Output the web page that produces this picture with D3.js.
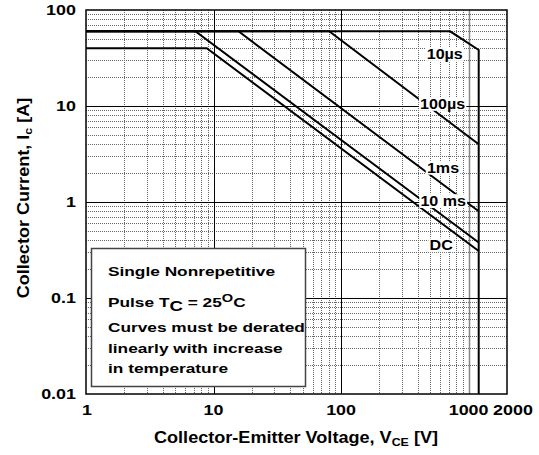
<!DOCTYPE html>
<html>
<head>
<meta charset="utf-8">
<script src="https://cdn.jsdelivr.net/npm/d3@7"></script>
<style>
  body { margin: 0; background: #fff; }
  text { font-family: "Liberation Sans", Arial, sans-serif; font-weight: bold; fill: #000; }
</style>
</head>
<body>
<svg id="chart"></svg>
<script>
const xTicks = [1, 10, 100, 1000, 2000];
const yTicks = [0.01, 0.1, 1, 10, 100];
const yTickLabels = ["0.01", "0.1", "1", "10", "100"];

// SOA boundaries [V, A]
const curve10us = [[1, 60], [716, 60], [1200, 38.3], [1200, 0.01]];
const curve100us = [[1, 60], [80.7, 60], [1200, 4.0]];
const curve1ms = [[1, 60], [15.7, 60], [1200, 0.8]];
const curve10ms = [[1, 60], [7.2, 60], [1200, 0.378]];
const curveDC = [[1, 40], [8.85, 40], [1200, 0.309]];

const curveLabels = ["10µs", "100µs", "1ms", "10 ms", "DC"];
const labelPos = [[650, 34.8], [625, 10.5], [630, 2.27], [632, 1.02], [609, 0.354]];

const noteLines = ["Single Nonrepetitive", "Pulse T_C = 25^OC", "Curves must be derated",
  "linearly with increase", "in temperature"];

const width = 539;
const height = 455;

const x = d3.scaleLog().domain([1, 2000]).range([86, 507]);
const y = d3.scaleLog().domain([0.01, 100]).range([394, 10]);

const svg = d3.select("#chart")
  .attr("width", width)
  .attr("height", height);

// grid
const decadesX = [1, 10, 100, 1000];
const minorX = decadesX.flatMap(d => d3.range(2, 10).map(k => d * k)).filter(v => v < 2000);
const decadesY = [0.01, 0.1, 1, 10];
const minorY = decadesY.flatMap(d => d3.range(2, 10).map(k => d * k));

const grid = svg.append("g");

grid.selectAll(".vminor")
  .data(minorX)
  .enter()
  .append("line")
  .attr("x1", d => Math.round(x(d)) + 0.5)
  .attr("x2", d => Math.round(x(d)) + 0.5)
  .attr("y1", y(100))
  .attr("y2", y(0.01))
  .attr("stroke", "#666")
  .attr("stroke-dasharray", "1,1");

grid.selectAll(".hminor")
  .data(minorY)
  .enter()
  .append("line")
  .attr("y1", d => Math.round(y(d)) + 0.5)
  .attr("y2", d => Math.round(y(d)) + 0.5)
  .attr("x1", x(1))
  .attr("x2", x(2000))
  .attr("stroke", "#666")
  .attr("stroke-dasharray", "1,1");

grid.selectAll(".vmajor")
  .data([10, 100, 1000])
  .enter()
  .append("line")
  .attr("x1", d => Math.round(x(d)) + 0.5)
  .attr("x2", d => Math.round(x(d)) + 0.5)
  .attr("y1", y(100))
  .attr("y2", y(0.01))
  .attr("stroke", d => d === 1000 ? "#888" : "#000")
  .attr("stroke-width", d => d === 1000 ? 1.5 : 1);

grid.selectAll(".hmajor")
  .data([0.1, 1, 10])
  .enter()
  .append("line")
  .attr("y1", d => Math.round(y(d)) + 0.5)
  .attr("y2", d => Math.round(y(d)) + 0.5)
  .attr("x1", x(1))
  .attr("x2", x(2000))
  .attr("stroke", "#000");

// curves
const line = d3.line().x(d => x(d[0])).y(d => y(d[1]));

svg.selectAll(".curve")
  .data([curve10us, curve100us, curve1ms, curve10ms, curveDC])
  .enter()
  .append("path")
  .attr("d", line)
  .attr("fill", "none")
  .attr("stroke", "#000")
  .attr("stroke-width", 2);

// frame
svg.append("rect")
  .attr("x", x(1))
  .attr("y", y(100))
  .attr("width", x(2000) - x(1))
  .attr("height", y(0.01) - y(100))
  .attr("fill", "none")
  .attr("stroke", "#000")
  .attr("stroke-width", 1.5);

// curve labels with white backing
const labels = svg.selectAll(".clabel")
  .data(curveLabels)
  .enter()
  .append("g")
  .attr("transform", (d, i) => `translate(${x(labelPos[i][0])},${y(labelPos[i][1])}) scale(1.15,1)`);

labels.append("text")
  .attr("text-anchor", "middle")
  .attr("dy", "0.36em")
  .style("font-size", "14px")
  .text(d => d);

labels.each(function() {
  const g = d3.select(this);
  const b = g.select("text").node().getBBox();
  g.insert("rect", "text")
    .attr("x", b.x - 1)
    .attr("y", b.y + 1)
    .attr("width", b.width + 2)
    .attr("height", b.height - 2)
    .attr("fill", "#fff");
});

// tick labels
svg.selectAll(".ytick")
  .data(yTicks)
  .enter()
  .append("text")
  .attr("transform", d => `translate(76,${y(d)}) scale(1.28,1)`)
  .attr("text-anchor", "end")
  .attr("dy", "0.36em")
  .style("font-size", "14px")
  .text((d, i) => yTickLabels[i]);

svg.selectAll(".xtick")
  .data(xTicks)
  .enter()
  .append("text")
  .attr("transform", d => `translate(${x(d) + (d === 2000 ? 6 : d === 1 ? 1 : 0)},415) scale(1.28,1)`)
  .attr("text-anchor", "middle")
  .style("font-size", "14px")
  .text(d => d);

// axis titles
const xTitle = svg.append("text")
  .attr("transform", "translate(296,443) scale(1.13,1)")
  .attr("text-anchor", "middle")
  .style("font-size", "16px");
xTitle.append("tspan").text("Collector-Emitter Voltage, V");
xTitle.append("tspan").attr("dy", 3).style("font-size", "11px").text("CE");
xTitle.append("tspan").attr("dy", -3).text(" [V]");

const yTitle = svg.append("text")
  .attr("transform", "translate(29,198) rotate(-90) scale(1.13,1)")
  .attr("text-anchor", "middle")
  .style("font-size", "16px");
yTitle.append("tspan").text("Collector Current, I");
yTitle.append("tspan").attr("dy", 3).style("font-size", "11px").text("c");
yTitle.append("tspan").attr("dy", -3).text(" [A]");

// note box
const note = svg.append("g");
note.append("rect")
  .attr("x", 91.5)
  .attr("y", 248.5)
  .attr("width", 214)
  .attr("height", 138)
  .attr("fill", "#fff")
  .attr("stroke", "#444")
  .attr("stroke-width", 1.5);

const noteY = [276, 306.5, 332, 352.5, 373];
noteLines.forEach((t, i) => {
  const txt = note.append("text")
    .attr("transform", `translate(108,${noteY[i]}) scale(1.33,1)`)
    .style("font-size", "13px");
  if (i === 1) {
    txt.append("tspan").text("Pulse T");
    txt.append("tspan").attr("dy", 4).style("font-size", "14px").text("C");
    txt.append("tspan").attr("dy", -4).text(" = 25");
    txt.append("tspan").attr("dy", -5).style("font-size", "11px").text("O");
    txt.append("tspan").attr("dy", 5).text("C");
  } else {
    txt.text(t);
  }
});
</script>
</body>
</html>
